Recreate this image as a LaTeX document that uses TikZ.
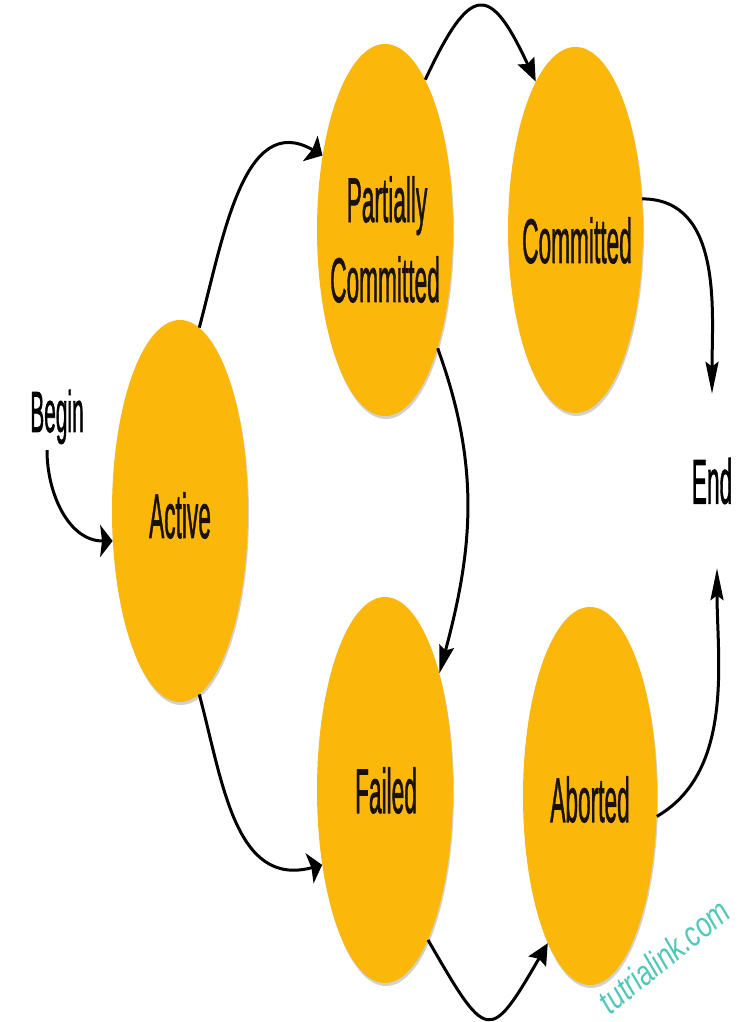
\documentclass[tikz,border=0pt]{standalone}
\usepackage{fontspec}
\setmainfont{Liberation Sans}
\newfontfamily\statefont[FakeBold=1.6]{Liberation Sans}
\usetikzlibrary{arrows.meta,shapes.geometric,shadows}
\definecolor{stateyellow}{RGB}{251,184,10}
\definecolor{wmark}{RGB}{80,200,185}
\definecolor{txtdark}{RGB}{26,18,10}
\newcommand{\sqz}[1]{\scalebox{0.36}[1]{#1}}
\begin{document}
\begin{tikzpicture}[x=1pt,y=1pt,
  state/.style={ellipse, fill=stateyellow, draw=none, inner sep=0pt,
    drop shadow={shadow xshift=1pt, shadow yshift=-3pt, opacity=0.18, fill=black}},
  lbl/.style={anchor=base, inner sep=0pt, text=txtdark, font=\statefont\fontsize{63}{80}\selectfont},
  conn/.style={line width=3pt, black},
  hd/.style 2 args={-{Stealth[length=#1pt,width=#2pt,inset'=0pt 0.15]}},
]
\fill[white] (0,0) rectangle (740,1022);
\useasboundingbox (0,0) rectangle (740,1022);

% states
\node[state, minimum width=136pt, minimum height=382pt] (active) at (180,511) {};
\node[state, minimum width=136pt, minimum height=372pt] (pc) at (385,792) {};
\node[state, minimum width=135pt, minimum height=366pt] (committed) at (575.5,792) {};
\node[state, minimum width=136pt, minimum height=386pt] (failed) at (385,232) {};
\node[state, minimum width=134pt, minimum height=378pt] (aborted) at (590,226) {};

% texts
\node[lbl, font=\statefont\fontsize{58}{70}\selectfont, text=black] (begin) at (57,590) {\sqz{Begin}};
\node[lbl] (activeT) at (180,484) {\sqz{Active}};
\node[lbl] (pcT1) at (387,800) {\sqz{Partially}};
\node[lbl] (pcT2) at (385,720) {\sqz{Committed}};
\node[lbl] (committedT) at (577,759) {\sqz{Committed}};
\node[lbl] (failedT) at (386,209) {\sqz{Failed}};
\node[lbl] (abortedT) at (590,200) {\sqz{Aborted}};
\node[lbl, anchor=center, minimum height=174pt, text=black] (endN) at (712,541) {\sqz{End}};

% watermark
\node[rotate=39, text=wmark, font=\fontsize{28}{32}\selectfont\itshape, inner sep=0pt] (wm) at (664,66) {\scalebox{0.95}[1.25]{tutrialink.com}};

% connectors
\draw[conn, hd={12.5}{32}] ([xshift=-10pt,yshift=-6pt]begin.south) to[out=-90,in=180] (active.204);
\draw[conn, hd={14}{29}] (active.84) to[out=75,in=150,looseness=1.1] (pc.130);
\draw[conn, hd={23}{18}] (pc.75) to[out=65,in=115,looseness=2.5] (committed.105);
\draw[conn, hd={32}{13}] (committed.25) to[out=0,in=90] (endN.north);
\draw[conn, hd={32}{13}] (aborted.343) to[out=30,in=-90,looseness=0.9] ([xshift=5pt]endN.south);
\draw[conn, hd={28}{15}] (pc.294) to[out=-70,in=75] (failed.65);
\draw[conn, hd={13}{31}] (active.276) to[out=-75,in=195,looseness=1.1] (failed.230);
\draw[conn, hd={21}{20}] (failed.286) to[out=-60,in=240,looseness=2.5] (aborted.254);
\end{tikzpicture}
\end{document}
